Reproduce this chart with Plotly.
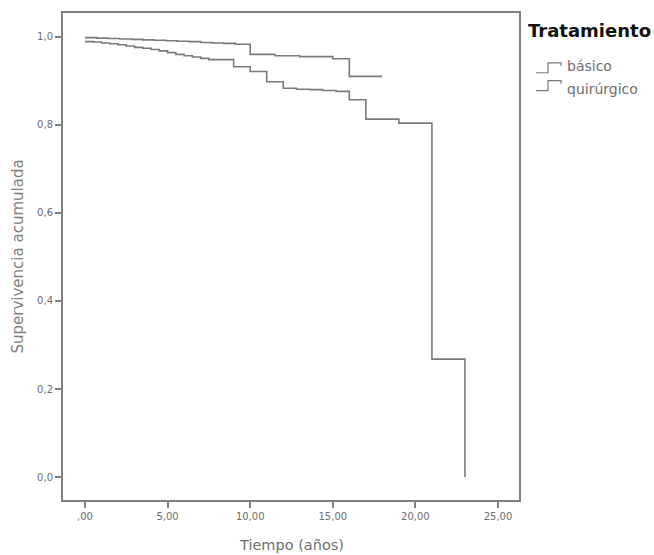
import plotly.graph_objects as go

# Kaplan-Meier style survival estimates
basico_t = [0, 0.7, 1.4, 2.1, 2.8, 3.5, 4.2, 4.9, 5.6, 6.3, 7.0, 7.7, 8.4, 9.1,
            10, 11.5, 13, 15, 16, 18]
basico_s = [0.998, 0.997, 0.996, 0.995, 0.994, 0.993, 0.992, 0.991, 0.990, 0.989,
            0.987, 0.986, 0.985, 0.983, 0.960, 0.957, 0.955, 0.950, 0.910, 0.910]

quir_t = [0, 0.5, 1.0, 1.5, 2.0, 2.5, 3.0, 3.5, 4.0, 4.5, 5.0, 5.5, 6.0, 6.5, 7.0,
          7.5, 9, 10, 11, 12, 12.8, 13.6, 14.4, 15.2, 16, 17, 19, 21, 23]
quir_s = [0.989, 0.988, 0.986, 0.984, 0.982, 0.979, 0.976, 0.974, 0.971, 0.968,
          0.964, 0.960, 0.957, 0.954, 0.951, 0.948, 0.932, 0.921, 0.898, 0.883,
          0.881, 0.880, 0.878, 0.876, 0.857, 0.813, 0.804, 0.268, 0.0]

x_ticks = [0, 5, 10, 15, 20, 25]
x_labels = [",00", "5,00", "10,00", "15,00", "20,00", "25,00"]
y_ticks = [0.0, 0.2, 0.4, 0.6, 0.8, 1.0]
y_labels = ["0,0", "0,2", "0,4", "0,6", "0,8", "1,0"]

legend_title = "Tratamiento"
legend_items = ["básico", "quirúrgico"]

line_col = "#7a7a7a"
frame_col = "#808080"
text_col = "#6e6e6e"

fig = go.Figure()
fig.add_trace(go.Scatter(x=basico_t, y=basico_s, mode="lines", line_shape="hv",
                         line=dict(color=line_col, width=1.6), name=legend_items[0],
                         showlegend=False))
fig.add_trace(go.Scatter(x=quir_t, y=quir_s, mode="lines", line_shape="hv",
                         line=dict(color=line_col, width=1.6), name=legend_items[1],
                         showlegend=False))

W, H = 654, 555
L, R, T, B = 63, 519, 11, 500
pw, ph = R - L, B - T


def px(x):
    return (x - L) / pw


def py(y):
    return (B - y) / ph


fig.update_layout(
    width=W, height=H,
    margin=dict(l=L, r=W - R, t=T, b=H - B),
    paper_bgcolor="white", plot_bgcolor="white",
    font=dict(family="DejaVu Sans", color=text_col),
    xaxis=dict(range=[-1.33, 26.27], tickvals=x_ticks, ticktext=x_labels,
               showgrid=False, zeroline=False, showline=True, mirror=True,
               linecolor=frame_col, linewidth=2, ticks="outside", ticklen=6,
               tickcolor=frame_col, tickwidth=1.5,
               tickfont=dict(size=10, color=text_col)),
    yaxis=dict(range=[-0.052, 1.054], tickvals=y_ticks, ticktext=y_labels,
               showgrid=False, zeroline=False, showline=True, mirror=True,
               linecolor=frame_col, linewidth=2, ticks="outside", ticklen=6,
               tickcolor=frame_col, tickwidth=1.5,
               tickfont=dict(size=10, color=text_col)),
)

annotations = [
    dict(text="Tiempo (años)", x=0.5, y=py(545), xref="paper", yref="paper",
         showarrow=False, xanchor="center", yanchor="middle",
         font=dict(size=14.5, color=text_col)),
    dict(text="Supervivencia acumulada", x=px(17), y=0.5, xref="paper", yref="paper",
         showarrow=False, xanchor="center", yanchor="middle", textangle=-90,
         font=dict(size=15, color="#808080")),
    dict(text="<b>" + legend_title + "</b>", x=px(526), y=py(29), xref="paper",
         yref="paper", showarrow=False, xanchor="left", yanchor="middle",
         font=dict(size=18, color="#111111")),
]
item_y = [64, 87]
for name, yy in zip(legend_items, item_y):
    annotations.append(dict(text=name, x=px(565), y=py(yy), xref="paper", yref="paper",
                            showarrow=False, xanchor="left", yanchor="middle",
                            font=dict(size=14, color=text_col)))
fig.update_layout(annotations=annotations)

shapes = []
for low, high in [(71, 61), (89, 79)]:
    path = (f"M {px(536)} {py(low)} L {px(548)} {py(low)} L {px(548)} {py(high)} "
            f"L {px(561)} {py(high)} L {px(561)} {py(high + 3)}")
    shapes.append(dict(type="path", path=path, xref="paper", yref="paper",
                       line=dict(color=line_col, width=1.2)))
fig.update_layout(shapes=shapes)

fig.write_html("out.html")
